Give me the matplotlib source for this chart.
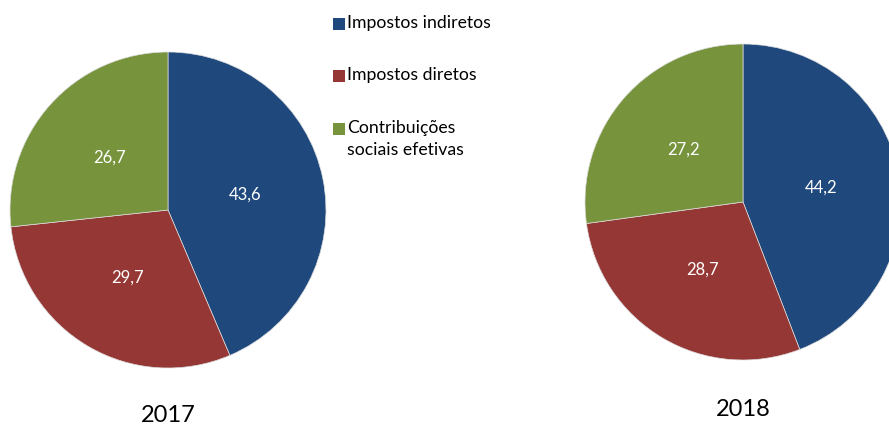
import matplotlib.pyplot as plt
from matplotlib.patches import Rectangle

plt.rcParams['font.family'] = ['Lato', 'DejaVu Sans']

categories = ['Impostos indiretos', 'Impostos diretos', 'Contribuições\nsociais efetivas']
years = ['2017', '2018']
values_2017 = [43.6, 29.7, 26.7]
values_2018 = [44.2, 28.7, 27.2]
colors = ['#1F497D', '#953735', '#77933C']

W, H = 889, 428
fig = plt.figure(figsize=(W / 100, H / 100), dpi=100)


def add_pie(cx, cy, r, vals, year, year_y):
    ax = fig.add_axes([(cx - r) / W, (H - cy - r) / H, 2 * r / W, 2 * r / H])
    ax.pie(vals, colors=colors, startangle=90, counterclock=False, radius=1,
           labels=[f'{v:.1f}'.replace('.', ',') for v in vals],
           labeldistance=0.5,
           textprops=dict(color='white', fontsize=12, ha='center', va='center'),
           wedgeprops=dict(edgecolor='#dddddd', linewidth=0.5))
    ax.set_xlim(-1, 1)
    ax.set_ylim(-1, 1)
    ax.set_aspect('auto')
    ax.axis('off')
    fig.text(cx / W, 1 - year_y / H, year, ha='center', va='center', fontsize=17)


add_pie(168, 210, 158, values_2017, years[0], 415)
add_pie(743, 202, 158, values_2018, years[1], 410)

# legend drawn by hand
leg_y = [24, 76, 129]
for lab, col, y in zip(categories, colors, leg_y):
    fig.patches.append(Rectangle((333 / W, 1 - (y + 6) / H), 12 / W, 12 / H,
                                 transform=fig.transFigure, facecolor=col,
                                 edgecolor='none'))
    fig.text(347 / W, 1 - (y - 9) / H, lab, ha='left', va='top', fontsize=12.7,
             linespacing=1.45)

fig.savefig('out.png', dpi=100)
